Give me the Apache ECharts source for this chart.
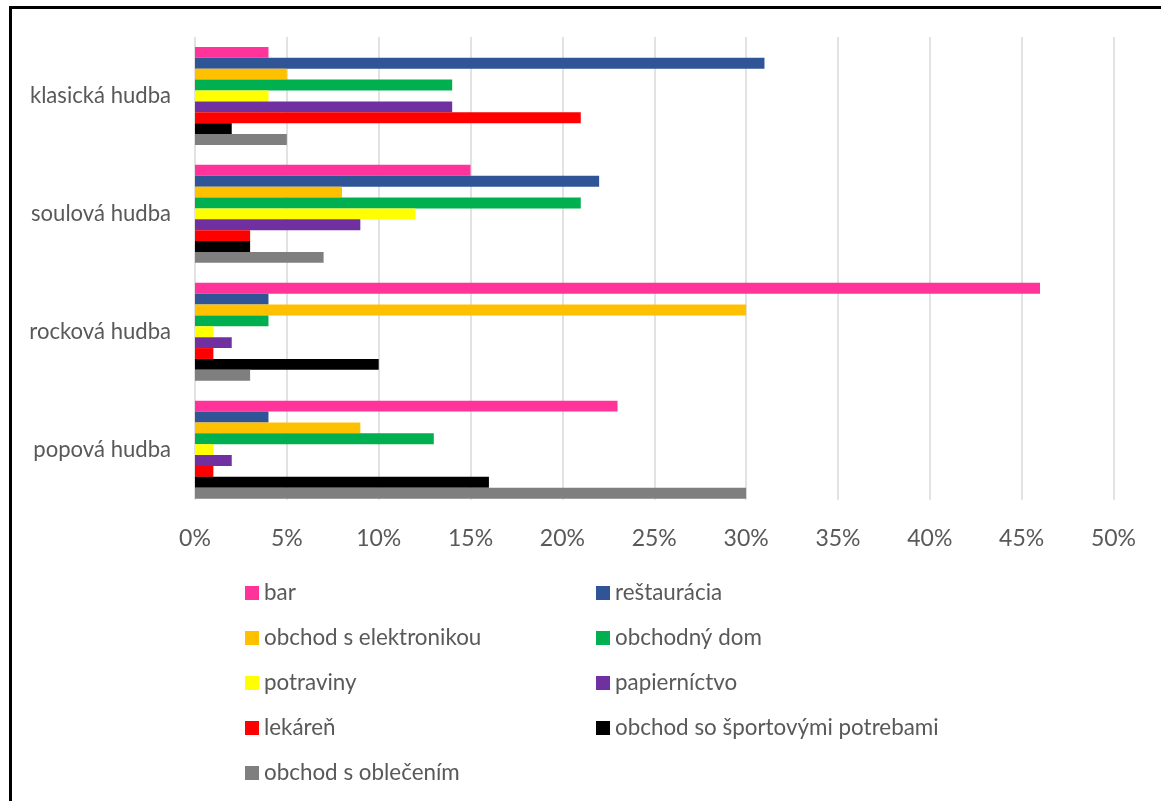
<!DOCTYPE html>
<html>
<head>
<meta charset="utf-8">
<script src="https://cdn.jsdelivr.net/npm/echarts@6/dist/echarts.min.js"></script>
<style>
html,body{margin:0;padding:0;background:#fff;overflow:hidden;}
#frame{position:absolute;left:9px;top:6px;width:1200px;height:850px;border:3px solid #000;box-sizing:border-box;}
#chart{position:absolute;left:0;top:0;width:1161px;height:801px;}
</style>
</head>
<body>
<div id="frame"></div>
<div id="chart"></div>
<script>
const categories = ['klasická hudba', 'soulová hudba', 'rocková hudba', 'popová hudba'];
const seriesNames = ['bar', 'reštaurácia', 'obchod s elektronikou', 'obchodný dom', 'potraviny', 'papierníctvo', 'lekáreň', 'obchod so športovými potrebami', 'obchod s oblečením'];
const colors = ['#FF3399', '#2F5597', '#FFC000', '#00B050', '#FFFF00', '#7030A0', '#FF0000', '#000000', '#7F7F7F'];
const barVals = [4, 15, 46, 23];
const restauraciaVals = [31, 22, 4, 4];
const elektronikaVals = [5, 8, 30, 9];
const obchodnyDomVals = [14, 21, 4, 13];
const potravinyVals = [4, 12, 1, 1];
const papiernictvoVals = [14, 9, 2, 2];
const lekarenVals = [21, 3, 1, 1];
const sportVals = [2, 3, 10, 16];
const oblecenieVals = [5, 7, 3, 30];
const allVals = [barVals, restauraciaVals, elektronikaVals, obchodnyDomVals, potravinyVals, papiernictvoVals, lekarenVals, sportVals, oblecenieVals];

const font = 'Lato, sans-serif';
const chart = echarts.init(document.getElementById('chart'));
const series = seriesNames.map((n, i) => ({
  name: n, type: 'bar', data: allVals[i],
  itemStyle: {color: colors[i]},
  barGap: '0%', barCategoryGap: '16.9%'
}));
const col1 = [0, 2, 4, 6, 8].map(i => seriesNames[i]);
const col2 = [1, 3, 5, 7].map(i => seriesNames[i]);
const legendCommon = {
  orient: 'vertical', top: 576, itemWidth: 14, itemHeight: 14, itemGap: 21,
  icon: 'rect', selectedMode: false,
  textStyle: {color: '#595959', fontSize: 22.4, lineHeight: 24, fontFamily: font}
};
chart.setOption({
  animation: false,
  color: colors,
  grid: {left: 195, right: 47.5, top: 37, bottom: 801 - 508.6, containLabel: false},
  xAxis: {
    type: 'value', min: 0, max: 50, interval: 5,
    axisLabel: {formatter: '{value}%', color: '#595959', fontSize: 23, fontFamily: font, margin: 18.5},
    axisLine: {show: false}, axisTick: {show: false},
    splitLine: {lineStyle: {color: '#D9D9D9', width: 1.5}}
  },
  yAxis: {
    type: 'category', data: categories, inverse: true,
    axisLine: {show: false}, axisTick: {show: false},
    axisLabel: {color: '#595959', fontSize: 22.1, fontFamily: font, margin: 24}
  },
  legend: [
    Object.assign({}, legendCommon, {left: 240, data: col1}),
    Object.assign({}, legendCommon, {left: 591, data: col2})
  ],
  graphic: [{
    type: 'rect', shape: {x: 185, y: 499.8, width: 940, height: 10},
    style: {fill: '#fff'}, z: 1, silent: true
  }],
  series: series
});
</script>
</body>
</html>
